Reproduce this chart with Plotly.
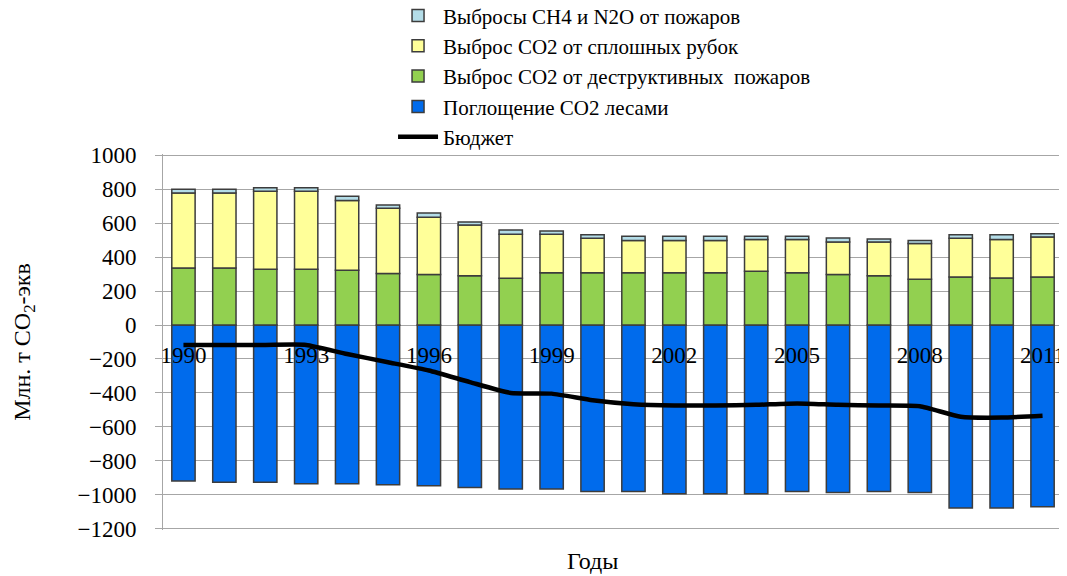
import plotly.graph_objects as go

years = [str(y) for y in range(1990, 2012)]
tick_years = ["1990", "1993", "1996", "1999", "2002", "2005", "2008", "2011"]

absorption = [-918, -926, -926, -934, -934, -941, -947, -957, -965, -965, -980,
              -980, -994, -994, -994, -980, -986, -980, -986, -1077, -1077, -1070]
fires_co2 = [335, 335, 329, 329, 322, 304, 298, 290, 275, 308, 308,
             308, 308, 308, 316, 308, 298, 290, 269, 283, 277, 283]
logging_co2 = [443, 443, 458, 458, 411, 384, 336, 299, 259, 226, 203,
               189, 189, 189, 187, 195, 191, 199, 211, 228, 226, 236]
fires_ch4 = [22, 22, 22, 22, 25, 18, 25, 18, 25, 19, 20,
             25, 25, 25, 20, 20, 23, 17, 18, 21, 28, 19]
budget = [-117, -117, -117, -117, -171, -219, -268, -336, -400, -404, -443,
          -466, -474, -474, -470, -462, -470, -474, -478, -540, -545, -534]

outline = dict(color="#3c3c3c", width=1.5)
font_family = "Liberation Serif, Times New Roman, serif"

fig = go.Figure()
fig.add_trace(go.Bar(x=years, y=absorption, name="Поглощение CO2 лесами",
                     marker=dict(color="#006BEC", line=outline), legendrank=4))
fig.add_trace(go.Bar(x=years, y=fires_co2, name="Выброс CO2 от деструктивных  пожаров",
                     marker=dict(color="#92D050", line=outline), legendrank=3))
fig.add_trace(go.Bar(x=years, y=logging_co2, name="Выброс CO2 от сплошных рубок",
                     marker=dict(color="#FFFF99", line=outline), legendrank=2))
fig.add_trace(go.Bar(x=years, y=fires_ch4, name="Выбросы CH4 и N2O от пожаров",
                     marker=dict(color="#B4DDE8", line=outline), legendrank=1))
fig.add_trace(go.Scatter(x=years, y=budget, name="Бюджет", mode="lines",
                         line=dict(color="black", width=4.5, shape="spline", smoothing=0.5),
                         legendrank=5))

fig.update_layout(
    width=1059, height=568,
    margin=dict(l=155, r=4, t=146, b=46, autoexpand=False),
    barmode="relative", bargap=0.43,
    plot_bgcolor="white", paper_bgcolor="white",
    font=dict(family=font_family, size=21, color="black"),
    legend=dict(x=0.2556, y=1.422, xanchor="left", yanchor="top",
                font=dict(family=font_family, size=21, color="black"),
                tracegroupgap=0, itemwidth=40, bgcolor="rgba(0,0,0,0)"),
    xaxis=dict(type="category", tickmode="array", tickvals=tick_years, ticktext=tick_years,
               anchor="free", position=0.5455, showgrid=False, showline=False,
               ticks="outside", ticklen=10, tickcolor="rgba(0,0,0,0)",
               tickfont=dict(family=font_family, size=23, color="black")),
    yaxis=dict(range=[-1207, 1007], tickmode="linear", tick0=0, dtick=200,
               showgrid=True, gridcolor="#A6A6A6",
               gridwidth=1, zeroline=True, zerolinecolor="#A6A6A6", zerolinewidth=1,
               showline=True, linecolor="#A6A6A6", linewidth=1,
               ticks="outside", ticklen=7, tickcolor="#A6A6A6", ticklabelstandoff=14,
               tickfont=dict(family=font_family, size=23, color="black"),
               title=dict(text="Млн. т CO<sub>2</sub>-экв", standoff=40,
                          font=dict(family=font_family, size=24, color="black"))),
    annotations=[dict(text="Годы", xref="paper", yref="paper", x=0.477, y=-0.123,
                      xanchor="center", yanchor="bottom", showarrow=False,
                      font=dict(family=font_family, size=24, color="black"))],
)

fig.write_html("out.html")
